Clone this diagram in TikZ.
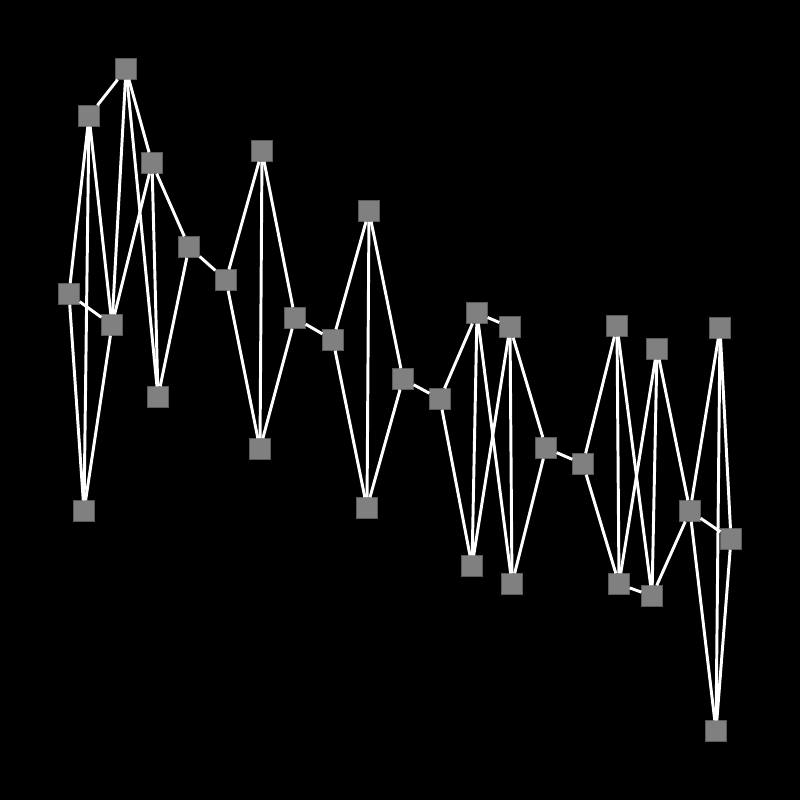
\documentclass[tikz,border=0pt]{standalone}
\usepackage{tikz}
\usetikzlibrary{positioning}
\definecolor{slate}{RGB}{128,128,128}
\tikzset{
  vtx/.style={rectangle,fill=slate,draw=slate!70!black,line width=0.4pt,
    minimum size=0.52cm,inner sep=0pt},
  link/.style={draw=white,line width=2.1pt},
}
\begin{document}
\begin{tikzpicture}[x={(0.025cm,0)},y={(0,-0.025cm)}]
    \fill[black] (0,0) rectangle (800,800);
    % squares, pixel positions
    \foreach \n/\px/\py in {a/69/294,b/89/116,c/126/69,d/112/325,e/84/511,f/152/163,
      g/158/397,h/189/247,i/226/280,j/262/151,k/260/449,l/295/318,m/333/340,
      n/369/211,o/367/508,p/403/379,q/440/399,r/477/313,s/510/327,t/472/566,
      u/512/584,v/546/448,w/583/464,x/617/326,y/657/349,z/619/584,aa/652/596,
      ab/690/511,ac/720/328,ad/731/539,ae/716/731}
      \node[vtx] (\n) at (\px,\py) {};
    \foreach \u/\v in {a/b,a/d,a/e,b/c,b/d,b/e,c/d,c/f,c/g,d/e,d/f,f/g,f/h,g/h,
      h/i,i/j,i/k,j/k,j/l,k/l,l/m,m/n,m/o,n/o,n/p,o/p,p/q,q/r,q/t,r/s,r/t,r/u,
      s/t,s/u,s/v,u/v,v/w,w/x,w/z,x/z,x/aa,y/z,y/aa,y/ab,z/aa,aa/ab,ab/ac,ab/ad,
      ab/ae,ac/ad,ac/ae,ad/ae}
      \draw[link] (\u) -- (\v);
  \end{tikzpicture}
\end{document}
